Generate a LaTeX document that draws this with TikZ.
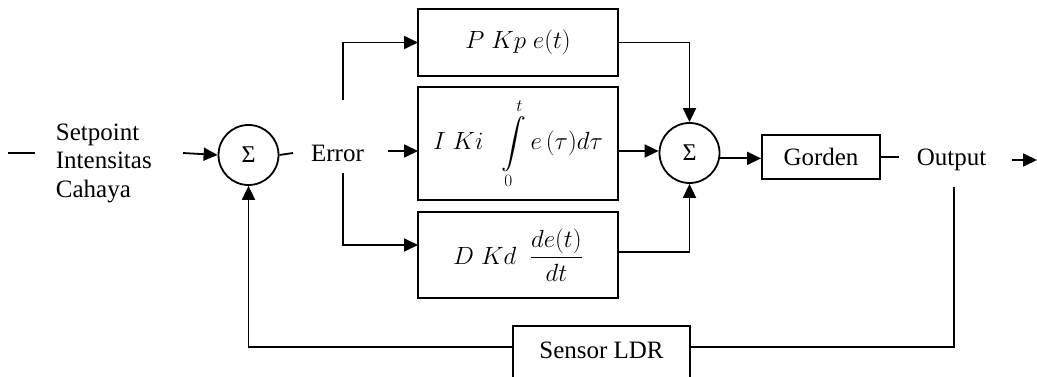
\documentclass[tikz,border=0pt]{standalone}
\usepackage{amsmath}
\usepackage{fontspec}
\setmainfont{Liberation Serif}
\usetikzlibrary{arrows.meta,calc}
\begin{document}
\begin{tikzpicture}[x=1pt,y=-1pt,
  line width=1.8pt,
  arr/.style={-{Triangle[length=14pt,width=13pt]}},
  blk/.style={draw,minimum width=200pt,inner sep=0pt,font=\fontsize{24}{28}\selectfont},
  sumnode/.style={draw,circle,minimum size=60pt,inner sep=0pt,font=\fontsize{24}{24}\selectfont},
  lbl/.style={font=\fontsize{25}{28.5}\selectfont,inner sep=0pt},
  txtbox/.style={draw,inner sep=0pt,font=\fontsize{25}{28.5}\selectfont}]
\useasboundingbox (0,0) rectangle (1037,377);
\clip (0,0) rectangle (1037,377);
% nodes
\node[lbl,align=left,anchor=west] (sp) at (55,163) {Setpoint\\Intensitas\\Cahaya};
\node[sumnode] (S1) at (248.5,155) {Σ};
\node[lbl] (err) at (337.5,153) {Error};
\node[blk,minimum height=67pt] (P) at (518,42.5) {$P\;Kp\;e(t)$};
\node[blk,minimum height=113pt] (I) at (518,143.5) {$I\;Ki\;\;\displaystyle\int\limits_0^t e\,(\tau)d\tau$};
\node[blk,minimum height=86pt] (D) at (518,255) {$D\;Kd\;\;\dfrac{de(t)}{dt}$};
\node[sumnode] (S2) at (689.5,153) {Σ};
\node[txtbox,minimum width=118pt,minimum height=44pt] (G) at (821,157) {Gorden};
\node[lbl] (out) at (951.5,160) {Output};
\node[txtbox,minimum width=177pt,text height=33pt,text depth=37pt,anchor=north] (L) at (601.5,325) {Sensor LDR};
% coordinates
\coordinate (d1) at (8,153);
\coordinate (d2) at (35,153);
\coordinate (a1) at (183,153);
\coordinate (e1) at (293,153);
\coordinate (eU) at (343,100);
\coordinate (eD) at (343,173);
\coordinate (pIn) at (418,42.5);
\coordinate (iSrc) at (388,151);
\coordinate (iIn) at (418,151);
\coordinate (dIn) at (418,245);
\coordinate (iOut) at (618,151);
\coordinate (dOut) at (618,252);
\coordinate (g2) at (899,157);
\coordinate (o1) at (1012,160);
\coordinate (o2) at (1037,160);
\coordinate (oD) at (954,187);
\coordinate (fb) at (954,347);
% connectors
\draw (d1) -- (d2);
\draw[arr] (a1) -- (S1.west);
\draw (S1.east) -- (e1);
\draw[arr] (eU) |- (pIn);
\draw[arr] (eD) |- (dIn);
\draw[arr] (iSrc) -- (iIn);
\draw[arr] (P.east) -| (S2.north);
\draw[arr] (iOut) -- (iOut -| S2.west);
\draw[arr] (dOut) -| (S2.south);
\draw[arr] (S2.-10) -- (S2.-10 -| G.west);
\draw (G.east) -- (g2);
\draw[arr] (o1) -- (o2);
\draw (oD) -- (fb) -- (fb -| L.east);
\draw[arr] (fb -| L.west) -| (S1.south);
\end{tikzpicture}
\end{document}
